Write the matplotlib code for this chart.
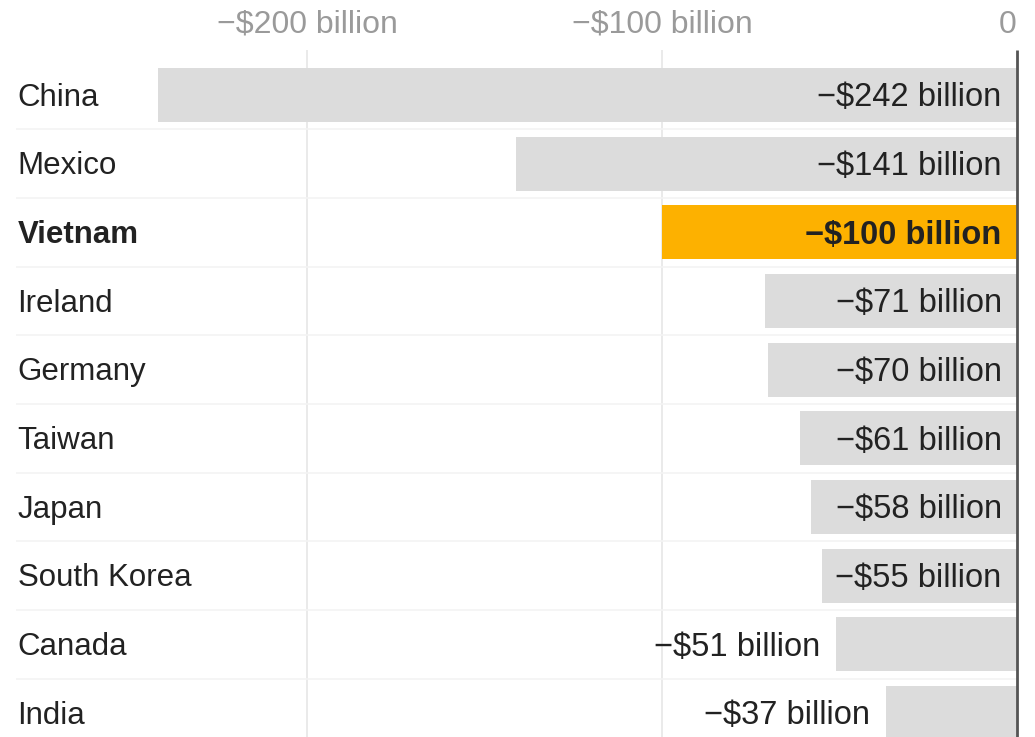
import matplotlib.pyplot as plt
from matplotlib.transforms import blended_transform_factory

# ---------- dados ----------
countries = ["China", "Mexico", "Vietnam", "Ireland", "Germany",
             "Taiwan", "Japan", "South Korea", "Canada", "India"]
balance = [-242, -141, -100, -71, -70, -61, -58, -55, -51, -37]
highlight = "Vietnam"
tick_values = [-200, -100, 0]
tick_labels = ["\u2212$200 billion", "\u2212$100 billion", "0"]

plt.rcParams["font.family"] = ["Liberation Sans", "DejaVu Sans"]

GRAY_BAR = "#dcdcdc"
ORANGE = "#fdb100"
TEXT = "#222222"

fig = plt.figure(figsize=(10.35, 7.37), dpi=100)
ax = fig.add_axes([0, 0, 1, 1])

ypos = list(range(len(countries)))
colors = [ORANGE if c == highlight else GRAY_BAR for c in countries]
ax.barh(ypos, balance, height=0.79, color=colors, edgecolor="none", zorder=2)

# linhas de grade
for v in tick_values[:-1]:
    ax.vlines(v, -0.65, len(countries), color="#e6e6e6", linewidth=1.2, zorder=1)
for i in range(len(countries) - 1):
    ax.hlines(i + 0.5, -282, 0, color="#f3f3f3", linewidth=1.2, zorder=1)
ax.vlines(0, -0.65, len(countries), color="#555555", linewidth=2, zorder=3)

# rótulos do eixo no topo
for v, lab in zip(tick_values, tick_labels):
    ax.text(v, -1.02, lab, ha="center" if v != 0 else "right", va="center",
            fontsize=23, color="#9a9a9a")

# nomes dos países
trans = blended_transform_factory(ax.transAxes, ax.transData)
for y, c in zip(ypos, countries):
    ax.text(0.017, y + 0.04, c, transform=trans, ha="left", va="center",
            fontsize=22.5, color=TEXT,
            weight="bold" if c == highlight else "normal")

# valores
for y, c, v in zip(ypos, countries, balance):
    lab = f"\u2212${abs(v)} billion"
    w = "bold" if c == highlight else "normal"
    xt = -4.3 if abs(v) >= 54 else v - 4.3
    ax.text(xt, y + 0.04, lab, ha="right", va="center", fontsize=23.5,
            color=TEXT, weight=w, zorder=4)

ax.set_xlim(-286.5, 5.1)
ax.set_ylim(9.35, -1.383)
ax.axis("off")

fig.savefig("out.png", dpi=100)
